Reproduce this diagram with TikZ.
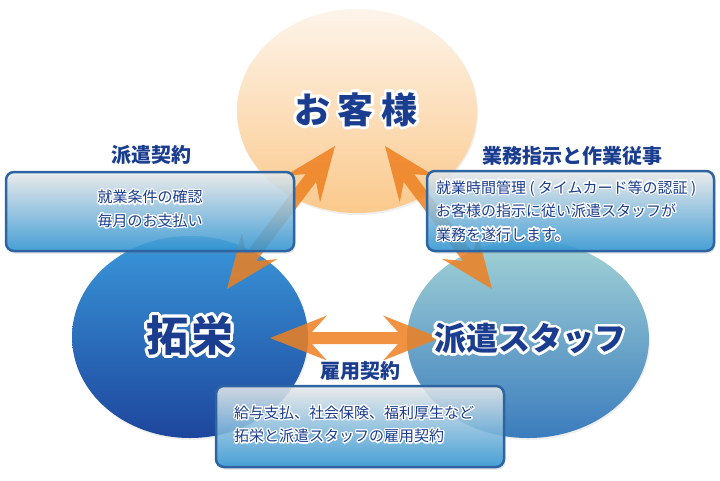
\documentclass[tikz,border=0pt]{standalone}
\usepackage{fontspec}
\setmainfont{Noto Sans CJK JP}
\usepackage{contour}
\contournumber{24}
\usetikzlibrary{shapes.geometric,calc,shadows}
\definecolor{navy}{HTML}{1B3D8F}
\definecolor{boxborder}{HTML}{2D65A2}
\definecolor{boxtop}{HTML}{ECECEC}
\definecolor{boxbot}{HTML}{2C94D4}
\definecolor{arrowc}{HTML}{EE8020}
\definecolor{peachtop}{HTML}{FDF4EA}
\definecolor{peachbot}{HTML}{FBC98C}
\definecolor{bluetop}{HTML}{3A97DA}
\definecolor{bluebot}{HTML}{1D469C}
\definecolor{tealtop}{HTML}{A3D3D6}
\definecolor{tealbot}{HTML}{3B7CBD}
\tikzset{
  bubble/.style={ellipse, inner sep=0pt, draw=none,
    drop shadow={shadow xshift=1pt, shadow yshift=-2pt, opacity=0.12}},
  infobox/.style={rectangle, rounded corners=8pt, draw=boxborder, line width=2.5pt,
    top color=boxtop, bottom color=boxbot, fill opacity=0.85, inner sep=0pt,
    drop shadow={shadow xshift=1.5pt, shadow yshift=-2.5pt, opacity=0.2}},
  arrowfill/.style={fill=arrowc, fill opacity=0.85},
  bigtxt/.style={text=navy, inner sep=0pt},
  titletxt/.style={text=navy, inner sep=0pt, font=\bfseries\fontsize{20pt}{24pt}\selectfont},
  bodytxt/.style={text=navy, inner sep=0pt, font=\fontsize{15pt}{23.5pt}\selectfont}
}
% double-headed swept arrow: tips, head length, barb half width, notch depth, shaft half width
\newcommand\dblarrow[6]{%
  \fill[arrowfill] (#1)
    -- ($(#1)!#3!(#2)!#4!90:(#2)$)
    -- ($(#1)!#5!(#2)!#6!90:(#2)$)
    -- ($(#2)!#5!(#1)!#6!-90:(#1)$)
    -- ($(#2)!#3!(#1)!#4!-90:(#1)$)
    -- (#2)
    -- ($(#2)!#3!(#1)!#4!90:(#1)$)
    -- ($(#2)!#5!(#1)!#6!90:(#1)$)
    -- ($(#1)!#5!(#2)!#6!-90:(#2)$)
    -- ($(#1)!#3!(#2)!#4!-90:(#2)$)
    -- cycle;}
\begin{document}
\begin{tikzpicture}[x=1pt,y=-1pt]
\fill[white] (0,0) rectangle (720,480);
\useasboundingbox (0,0) rectangle (720,480);
% ellipses
\node[bubble, minimum width=240pt, minimum height=204pt, top color=peachtop, bottom color=peachbot] (kyaku) at (357,111) {};
\node[bubble, minimum width=236pt, minimum height=202pt, top color=bluetop, bottom color=bluebot] (takuei) at (190,337) {};
\node[bubble, minimum width=242pt, minimum height=198pt, top color=tealtop, bottom color=tealbot] (haken) at (528,339) {};
% arrows
\coordinate (a1) at (335,146); \coordinate (a2) at (227,289);
\coordinate (b1) at (385,146); \coordinate (b2) at (492,289);
\coordinate (c1) at (270,338); \coordinate (c2) at (440,338);
\dblarrow{a1}{a2}{54pt}{22pt}{40pt}{6.5pt}
\dblarrow{b1}{b2}{54pt}{22pt}{40pt}{6.5pt}
\dblarrow{c1}{c2}{57pt}{22.5pt}{42pt}{6pt}
% boxes
\node[infobox, minimum width=288pt, minimum height=79pt] (boxL) at (150,211.5) {};
\node[infobox, minimum width=287pt, minimum height=80pt] (boxR) at (570.5,211) {};
\node[infobox, minimum width=288pt, minimum height=81pt] (boxB) at (360,426.5) {};
% titles
\node[titletxt] (ttL) at (151,156) {\contourlength{1.6pt}\contour{white}{派遣契約}};
\node[titletxt] (ttR) at (572,157) {\contourlength{1.6pt}\contour{white}{業務指示と作業従事}};
\node[titletxt] (ttB) at (360,372) {\contourlength{1.6pt}\contour{white}{雇用契約}};
% body texts
\node[bodytxt, align=center] (tL) at (150,209.5) {\contourlength{1.2pt}\contour{white}{就業条件の確認}\\\contourlength{1.2pt}\contour{white}{毎月のお支払い}};
\node[bodytxt, align=left, anchor=west] (tR) at (436,211.5) {\contourlength{1.2pt}\contour{white}{就業時間管理 ( タイムカード等の認証 )}\\\contourlength{1.2pt}\contour{white}{お客様の指示に従い派遣スタッフが}\\\contourlength{1.2pt}\contour{white}{業務を遂行します。}};
\node[bodytxt, align=left, anchor=west] (tB) at (234,425) {\contourlength{1.2pt}\contour{white}{給与支払、社会保険、福利厚生など}\\\contourlength{1.2pt}\contour{white}{拓栄と派遣スタッフの雇用契約}};
% big labels
\node[bigtxt, font=\bfseries\fontsize{36pt}{40pt}\selectfont] (nK) at (356,111) {\contourlength{2.8pt}\contour{white}{お\kern8pt 客\kern8pt 様}};
\node[bigtxt, font=\bfseries\fontsize{42pt}{46pt}\selectfont] (nT) at (190,337) {\contourlength{2.8pt}\contour{white}{拓\kern3pt 栄}};
\node[bigtxt, font=\bfseries\fontsize{32pt}{36pt}\selectfont] (nH) at (530,340) {\contourlength{2.6pt}\contour{white}{派遣スタッフ}};
\end{tikzpicture}
\end{document}
